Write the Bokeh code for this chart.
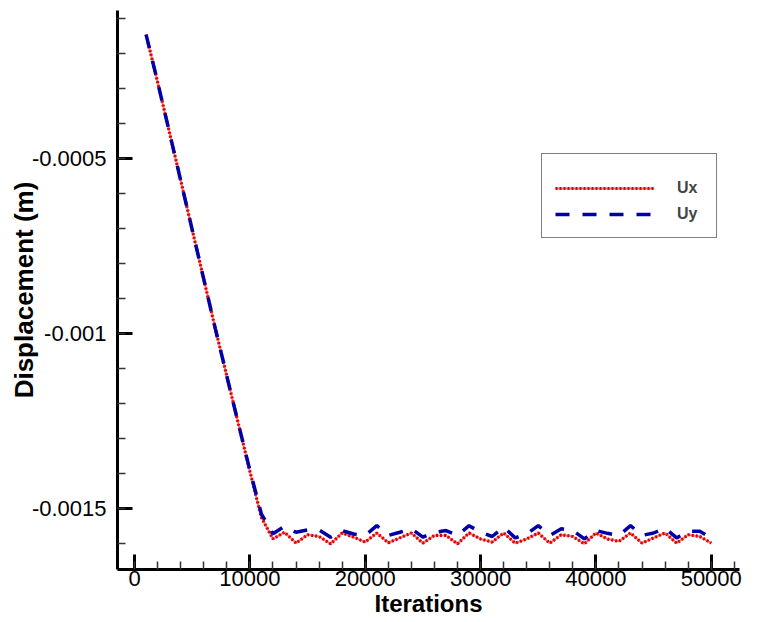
from bokeh.plotting import figure
from bokeh.models import Range1d, FixedTicker, CustomJSTickFormatter, Legend, LegendItem, ColumnDataSource
from bokeh.embed import file_html
from bokeh.resources import INLINE

iterations = [1000, 2000, 3000, 4000, 5000, 6000, 7000, 8000, 9000, 10000,
              11000, 12000, 13000, 14000, 15000, 16000, 17000, 18000, 19000, 20000,
              21000, 22000, 23000, 24000, 25000, 26000, 27000, 28000, 29000, 30000,
              31000, 32000, 33000, 34000, 35000, 36000, 37000, 38000, 39000, 40000,
              41000, 42000, 43000, 44000, 45000, 46000, 47000, 48000, 49000, 50000]

ux = [-0.000145, -0.000281, -0.000421, -0.000562, -0.000703, -0.000844, -0.000985, -0.001121, -0.001257, -0.001393,
      -0.001525, -0.001586, -0.001567, -0.001598, -0.001574, -0.001579, -0.001600, -0.001569, -0.001581, -0.001595,
      -0.001569, -0.001597, -0.001583, -0.001569, -0.001598, -0.001576, -0.001576, -0.001600, -0.001569, -0.001586,
      -0.001595, -0.001569, -0.001598, -0.001586, -0.001569, -0.001598, -0.001574, -0.001579, -0.001600, -0.001569,
      -0.001586, -0.001593, -0.001569, -0.001598, -0.001583, -0.001569, -0.001598, -0.001574, -0.001579, -0.001598]

uy = [-0.000145, -0.000281, -0.000421, -0.000562, -0.000703, -0.000844, -0.000985, -0.001121, -0.001257, -0.001390,
      -0.001515, -0.001571, -0.001550, -0.001567, -0.001560, -0.001560, -0.001581, -0.001562, -0.001572, -0.001576,
      -0.001548, -0.001576, -0.001567, -0.001557, -0.001581, -0.001567, -0.001562, -0.001576, -0.001548, -0.001567,
      -0.001579, -0.001552, -0.001583, -0.001572, -0.001548, -0.001576, -0.001557, -0.001562, -0.001586, -0.001562,
      -0.001570, -0.001576, -0.001548, -0.001576, -0.001569, -0.001555, -0.001583, -0.001564, -0.001564, -0.001583]

x_major = [0, 10000, 20000, 30000, 40000, 50000]
x_minor = [0, 2000, 4000, 6000, 8000, 10000, 12000, 14000, 16000, 18000, 20000, 22000, 24000, 26000,
           28000, 30000, 32000, 34000, 36000, 38000, 40000, 42000, 44000, 46000, 48000, 50000, 52000]
y_major = [-0.0015, -0.001, -0.0005]
y_minor = [-0.0016, -0.0015, -0.0014, -0.0013, -0.0012, -0.0011, -0.001, -0.0009, -0.0008, -0.0007,
           -0.0006, -0.0005, -0.0004, -0.0003, -0.0002, -0.0001]

FONT = "Liberation Sans"

p = figure(width=758, height=622, output_backend="svg", toolbar_location=None,
           x_range=Range1d(-1480, 52450), y_range=Range1d(-0.0016733, -0.0000763),
           min_border_left=117, min_border_right=19, min_border_top=10, min_border_bottom=53)
p.outline_line_color = None
p.grid.visible = False
p.background_fill_color = "white"
p.border_fill_color = "white"

src = ColumnDataSource(data=dict(x=iterations, ux=ux, uy=uy))

r1 = p.line("x", "ux", source=src, line_color="#f07878", line_width=2)
r2 = p.line("x", "ux", source=src, line_color="#e00000", line_width=3.2, line_dash="2 2")
r3 = p.line("x", "uy", source=src, line_color="#0000a8", line_width=3.5, line_dash="14 13")

p.xaxis.ticker = FixedTicker(ticks=x_major, minor_ticks=x_minor)
p.yaxis.ticker = FixedTicker(ticks=y_major, minor_ticks=y_minor)
p.yaxis.formatter = CustomJSTickFormatter(code="return String(Number(tick.toPrecision(6)));")

for ax in (p.xaxis, p.yaxis):
    ax.axis_line_width = 3
    ax.axis_line_color = "black"
    ax.major_tick_line_width = 3
    ax.major_tick_line_color = "black"
    ax.major_tick_in = 15
    ax.major_tick_out = 0
    ax.minor_tick_in = 8
    ax.minor_tick_out = 0
    ax.minor_tick_line_width = 1.5
    ax.minor_tick_line_color = "#333333"
    ax.major_label_text_font = FONT
    ax.major_label_text_font_size = "22px"
    ax.major_label_text_color = "black"
    ax.axis_label_text_font = FONT
    ax.axis_label_text_font_style = "bold"
    ax.axis_label_text_color = "black"

p.xaxis.axis_label = "Iterations"
p.xaxis.axis_label_text_font_size = "24px"
p.xaxis.major_label_standoff = 1
p.xaxis.axis_label_standoff = 1
p.yaxis.axis_label = "Displacement (m)"
p.yaxis.axis_label_text_font_size = "26px"
p.yaxis.major_label_standoff = 11
p.yaxis.axis_label_standoff = -10

legend = Legend(items=[LegendItem(label="Ux", renderers=[r1, r2]),
                       LegendItem(label="Uy", renderers=[r3])],
                location=(424, 331), orientation="vertical")
legend.title = " "
legend.title_text_font_size = "6px"
legend.title_standoff = 5
legend.padding = 13
legend.spacing = 6
legend.glyph_width = 99
legend.glyph_height = 20
legend.label_height = 20
legend.label_width = 26
legend.label_standoff = 23
legend.label_text_font = FONT
legend.label_text_font_style = "bold"
legend.label_text_font_size = "16px"
legend.border_line_color = "black"
legend.border_line_width = 1
legend.background_fill_color = "white"
legend.background_fill_alpha = 1
legend.margin = 0
p.add_layout(legend, "center")

open("out.html", "w").write(file_html(p, INLINE))
